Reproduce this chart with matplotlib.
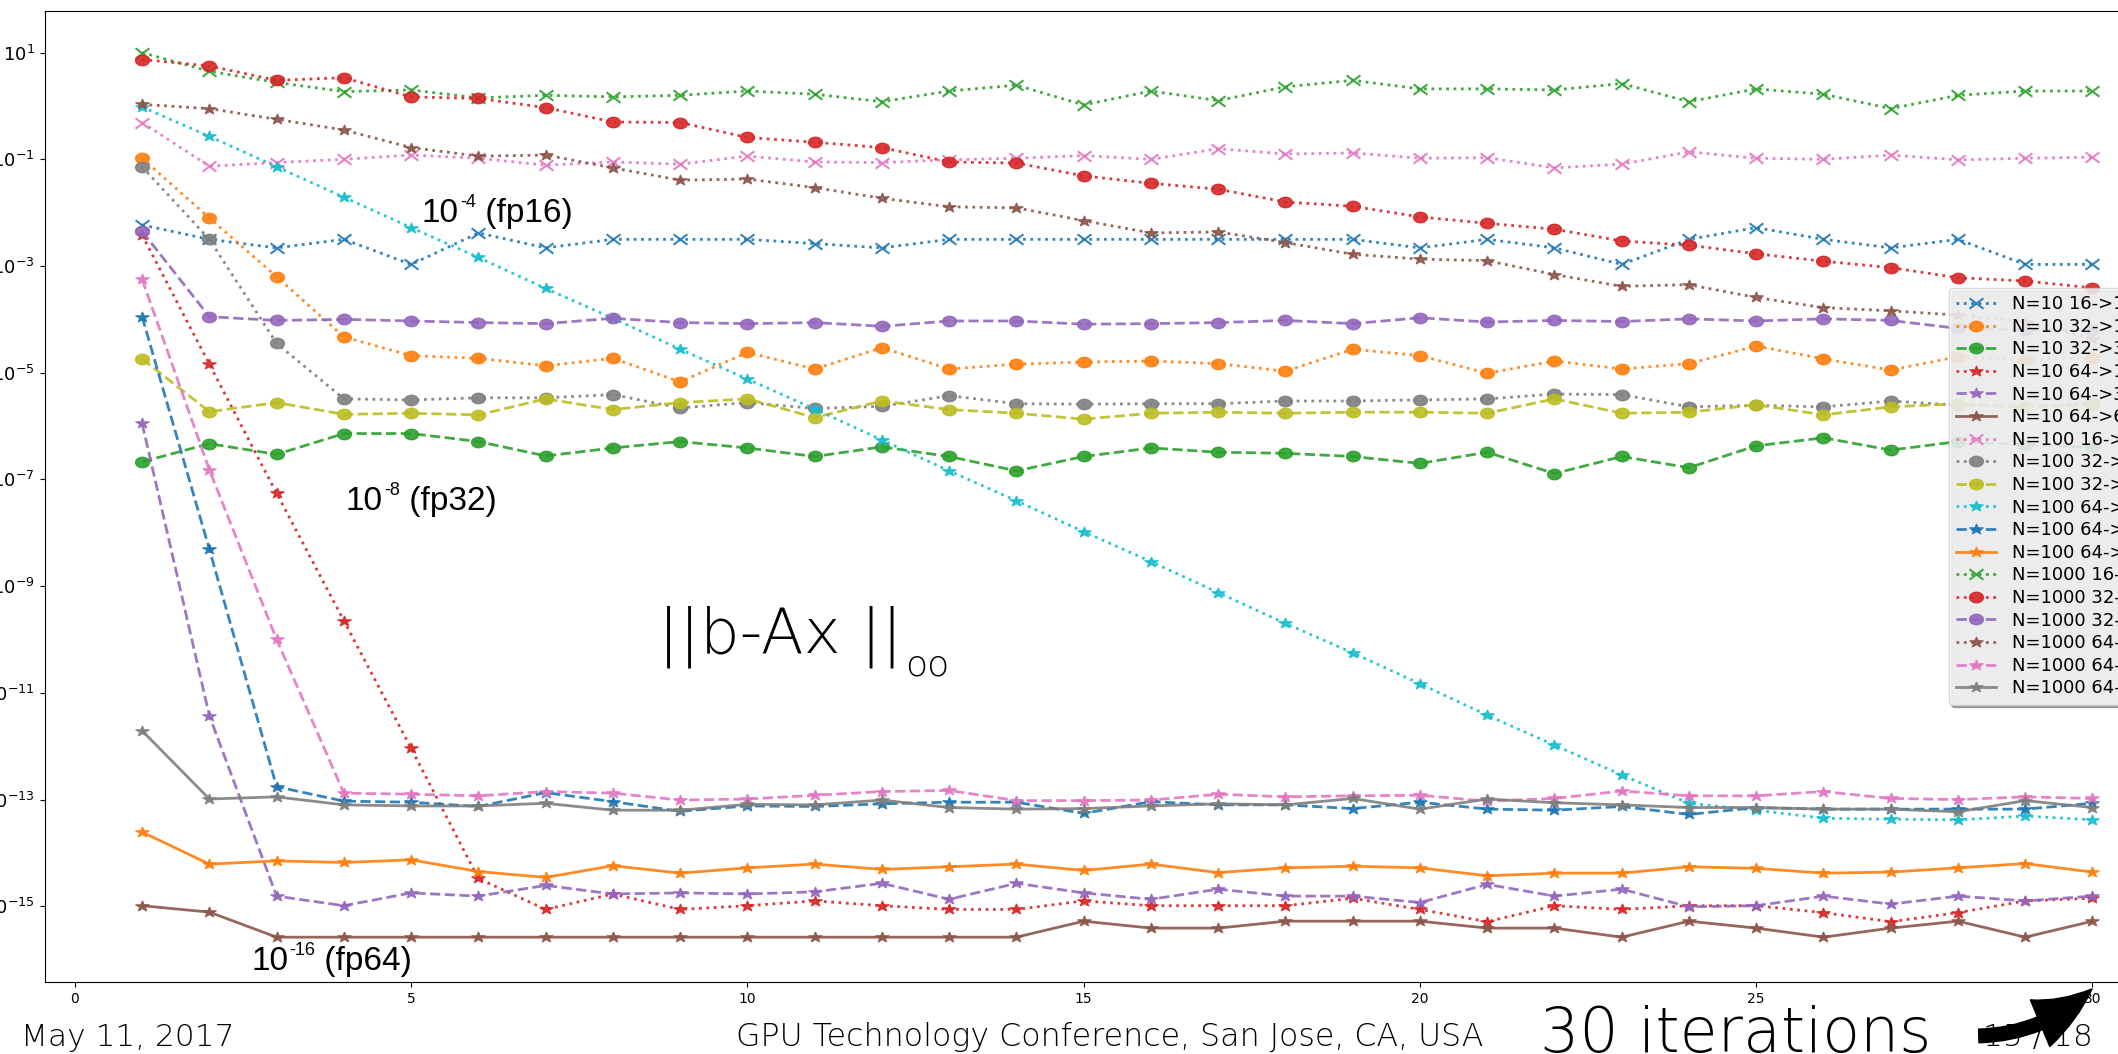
import numpy as np
import matplotlib
matplotlib.use("Agg")
import matplotlib.pyplot as plt
from matplotlib import font_manager as fm
from matplotlib.patches import FancyArrowPatch
from matplotlib.ticker import NullLocator
from matplotlib.markers import MarkerStyle
from matplotlib.transforms import Affine2D

# ---------------- data (log10 of ||b-Ax||_inf) -------------
iterations = list(range(1, 31))

labels = ["N=10 16->16", "N=10 32->16", "N=10 32->32", "N=10 64->16", "N=10 64->32", "N=10 64->64",
          "N=100 16->16", "N=100 32->16", "N=100 32->32", "N=100 64->16", "N=100 64->32", "N=100 64->64",
          "N=1000 16->16", "N=1000 32->16", "N=1000 32->32", "N=1000 64->16", "N=1000 64->32", "N=1000 64->64"]

n10_16 = [-2.23, -2.50, -2.66, -2.50, -2.97, -2.38, -2.66, -2.50, -2.50, -2.50, -2.58, -2.66, -2.50, -2.50, -2.50,
          -2.50, -2.50, -2.50, -2.50, -2.66, -2.50, -2.66, -2.97, -2.50, -2.28, -2.50, -2.66, -2.50, -2.97, -2.97]
n10_32a = [-0.98, -2.10, -3.20, -4.33, -4.68, -4.73, -4.87, -4.73, -5.17, -4.62, -4.93, -4.53, -4.93, -4.84, -4.80,
           -4.78, -4.83, -4.97, -4.56, -4.68, -5.01, -4.78, -4.93, -4.83, -4.50, -4.74, -4.95, -4.70, -4.76, -4.72]
n10_32b = [-6.67, -6.33, -6.53, -6.14, -6.14, -6.29, -6.56, -6.41, -6.29, -6.41, -6.57, -6.39, -6.57, -6.84, -6.57,
           -6.41, -6.49, -6.51, -6.57, -6.70, -6.49, -6.89, -6.57, -6.78, -6.37, -6.22, -6.45, -6.29, -6.35, -6.40]
n10_64a = [-2.42, -4.84, -7.26, -9.65, -12.04, -14.48, -15.06, -14.77, -15.06, -14.99, -14.90, -14.99, -15.06, -15.06, -14.90,
           -14.99, -14.99, -14.99, -14.85, -15.06, -15.29, -14.99, -15.06, -14.99, -14.99, -15.12, -15.29, -15.12, -14.90, -14.85]
n10_64b = [-5.95, -11.43, -14.81, -14.99, -14.75, -14.81, -14.61, -14.77, -14.75, -14.77, -14.73, -14.57, -14.87, -14.57, -14.75,
           -14.87, -14.68, -14.81, -14.81, -14.93, -14.59, -14.81, -14.68, -15.01, -14.99, -14.81, -14.96, -14.81, -14.90, -14.81]
n10_64c = [-14.99, -15.11, -15.58, -15.58, -15.58, -15.58, -15.58, -15.58, -15.58, -15.58, -15.58, -15.58, -15.58, -15.58, -15.28,
           -15.41, -15.41, -15.28, -15.28, -15.28, -15.41, -15.41, -15.58, -15.28, -15.41, -15.58, -15.41, -15.28, -15.58, -15.28]
n100_16 = [-0.31, -1.13, -1.06, -1.00, -0.92, -0.98, -1.11, -1.05, -1.09, -0.94, -1.05, -1.06, -1.01, -0.98, -0.93,
           -1.00, -0.80, -0.90, -0.88, -0.98, -0.97, -1.16, -1.09, -0.86, -0.98, -1.00, -0.92, -1.01, -0.98, -0.96]
n100_32a = [-1.14, -2.50, -4.45, -5.49, -5.51, -5.47, -5.47, -5.41, -5.66, -5.56, -5.67, -5.63, -5.43, -5.58, -5.59,
            -5.58, -5.58, -5.53, -5.53, -5.51, -5.49, -5.40, -5.41, -5.64, -5.61, -5.64, -5.53, -5.61, -5.64, -5.57]
n100_32b = [-4.74, -5.73, -5.56, -5.78, -5.76, -5.79, -5.49, -5.69, -5.56, -5.49, -5.84, -5.53, -5.69, -5.76, -5.87,
            -5.76, -5.74, -5.76, -5.74, -5.74, -5.76, -5.49, -5.76, -5.74, -5.60, -5.79, -5.64, -5.58, -5.64, -5.61]
n100_64a = [-0.02, -0.57, -1.14, -1.71, -2.28, -2.84, -3.42, -3.98, -4.56, -5.12, -5.68, -6.26, -6.84, -7.40, -7.98,
            -8.54, -9.12, -9.70, -10.25, -10.83, -11.42, -11.98, -12.54, -13.07, -13.20, -13.35, -13.37, -13.38, -13.31, -13.38]
n100_64b = [-3.95, -8.31, -12.76, -13.03, -13.05, -13.13, -12.87, -13.04, -13.22, -13.12, -13.13, -13.08, -13.05, -13.05, -13.26,
            -13.04, -13.10, -13.10, -13.17, -13.05, -13.18, -13.20, -13.13, -13.28, -13.15, -13.18, -13.18, -13.18, -13.18, -13.07]
n100_64c = [-13.61, -14.21, -14.15, -14.18, -14.13, -14.35, -14.46, -14.24, -14.38, -14.28, -14.21, -14.31, -14.26, -14.21, -14.33,
            -14.21, -14.37, -14.28, -14.25, -14.28, -14.43, -14.38, -14.38, -14.26, -14.29, -14.38, -14.36, -14.28, -14.20, -14.36]
n1000_16 = [1.00, 0.65, 0.44, 0.27, 0.30, 0.15, 0.20, 0.17, 0.20, 0.28, 0.22, 0.08, 0.28, 0.39, 0.02,
            0.28, 0.10, 0.36, 0.48, 0.32, 0.32, 0.30, 0.42, 0.08, 0.32, 0.22, -0.05, 0.20, 0.28, 0.28]
n1000_32a = [0.87, 0.75, 0.48, 0.53, 0.17, 0.14, -0.03, -0.30, -0.31, -0.59, -0.68, -0.78, -1.05, -1.07, -1.31,
             -1.45, -1.56, -1.80, -1.88, -2.08, -2.20, -2.31, -2.53, -2.61, -2.77, -2.91, -3.03, -3.22, -3.28, -3.41]
n1000_32b = [-2.35, -3.95, -4.02, -4.00, -4.03, -4.06, -4.08, -3.98, -4.06, -4.08, -4.06, -4.13, -4.03, -4.03, -4.09,
             -4.08, -4.06, -4.02, -4.08, -3.97, -4.05, -4.02, -4.04, -3.99, -4.03, -3.99, -4.02, -4.17, -4.20, -4.20]
n1000_64a = [0.03, -0.05, -0.25, -0.45, -0.78, -0.94, -0.92, -1.16, -1.39, -1.37, -1.53, -1.73, -1.89, -1.91, -2.15,
             -2.38, -2.36, -2.56, -2.78, -2.87, -2.90, -3.16, -3.38, -3.35, -3.59, -3.78, -3.84, -3.92, -4.04, -4.36]
n1000_64b = [-3.25, -6.82, -10.00, -12.88, -12.90, -12.93, -12.85, -12.88, -13.01, -12.99, -12.92, -12.85, -12.83, -13.02, -13.02,
             -13.01, -12.90, -12.95, -12.93, -12.92, -13.03, -12.98, -12.84, -12.93, -12.93, -12.85, -12.98, -13.00, -12.95, -12.98]
n1000_64c = [-11.71, -12.99, -12.95, -13.10, -13.12, -13.12, -13.07, -13.20, -13.20, -13.09, -13.10, -13.01, -13.15, -13.18, -13.17,
             -13.12, -13.08, -13.10, -12.98, -13.18, -12.99, -13.06, -13.10, -13.15, -13.15, -13.18, -13.18, -13.23, -13.02, -13.15]

series_log10 = [n10_16, n10_32a, n10_32b, n10_64a, n10_64b, n10_64c,
                n100_16, n100_32a, n100_32b, n100_64a, n100_64b, n100_64c,
                n1000_16, n1000_32a, n1000_32b, n1000_64a, n1000_64b, n1000_64c]

xticks = [0, 5, 10, 15, 20, 25, 30]
ytick_exponents = [1, -1, -3, -5, -7, -9, -11, -13, -15]

# ---------------- styling -----------------------------------------------------
linestyles = [":", ":", "--", ":", "--", "-"] * 3
markers = ["x", "o", "o", "*", "*", "*"] * 3
STRETCH = 1.33          # the slide shows the chart stretched horizontally
BASE_MS = 7.5

W, H = 2118, 1054
fig = plt.figure(figsize=(W / 100, H / 100), dpi=100)
fig.patch.set_facecolor("white")


def fx(px):
    return px / W


def fy(py):
    return 1 - py / H


def weight_num(w):
    if isinstance(w, (int, float)):
        return w
    return fm.weight_dict.get(str(w).lower(), 400)


def light_face(families, max_w=300):
    for fam in families:
        best = None
        for f in fm.fontManager.ttflist:
            if f.name != fam or f.style != "normal" or f.stretch not in ("normal", 500, "medium"):
                continue
            w = weight_num(f.weight)
            if w <= max_w and (best is None or w < weight_num(best.weight)):
                best = f
        if best is not None:
            return best.fname
    return None


def props(fname, size, fallback="DejaVu Sans"):
    if fname:
        return fm.FontProperties(fname=fname, size=size)
    return fm.FontProperties(family=fallback, size=size)


def stretched_marker(mk):
    m = MarkerStyle(mk)
    p = m.get_path().transformed(m.get_transform())
    sp = p.transformed(Affine2D().scale(STRETCH, 1.0))
    scale = np.max(np.abs(sp.vertices)) / 0.5
    return sp, scale


ax_left, ax_top, ax_bottom, ax_right = 44.6, 11, 982, 2190
ax = fig.add_axes([fx(ax_left), fy(ax_bottom), (ax_right - ax_left) / W, (ax_bottom - ax_top) / H])

for vals, lab, ls, mk in zip(series_log10, labels, linestyles, markers):
    path, sc = stretched_marker(mk)
    ax.plot(iterations, 10.0 ** np.asarray(vals), linestyle=ls, marker=path, label=lab,
            lw=2, ms=BASE_MS * sc, mew=1.5 if mk == "x" else 1.0, alpha=0.9)

ax.set_yscale("log")
ax.set_xlim(-0.45, 31.45)
ax.set_ylim(10 ** -16.42, 10 ** 1.78)
ax.set_xticks(xticks)
ax.set_yticks([10.0 ** e for e in ytick_exponents])
ax.yaxis.set_minor_locator(NullLocator())
ax.tick_params(axis="x", labelsize=10)
ax.tick_params(axis="y", labelsize=13)

leg = ax.legend(loc="upper left", bbox_to_anchor=(fx(1949), fy(288)), bbox_transform=fig.transFigure,
                fontsize=13, shadow=True, framealpha=0.8, borderaxespad=0, labelspacing=0.255,
                handlelength=2.2, handletextpad=0.9, borderpad=0.4)

# ---------------- slide annotations --------------------------------------------
renderer = fig.canvas.get_renderer()
ann_name = light_face(["Liberation Sans"], max_w=400)


def sup_label(x_px, base_px, base, sup, rest, size, sup_size):
    t1 = fig.text(fx(x_px), fy(base_px), base, fontproperties=props(ann_name, size), va="baseline")
    bb = t1.get_window_extent(renderer)
    x2 = bb.x1 + 1
    t2 = fig.text(x2 / W, fy(base_px - 0.46 * size * 100 / 72), sup,
                  fontproperties=props(ann_name, sup_size), va="baseline")
    bb2 = t2.get_window_extent(renderer)
    fig.text(bb2.x1 / W, fy(base_px), rest, fontproperties=props(ann_name, size), va="baseline")


sup_label(422, 222, "10", "-4", " (fp16)", 24, 13)
sup_label(346, 510, "10", "-8", " (fp32)", 24, 13)
sup_label(251, 970, "10", "-16", " (fp64)", 24, 13)

thin = light_face(["DejaVu Sans", "Lato", "Open Sans", "Roboto", "Noto Sans"], max_w=300)

fig.text(fx(658), fy(653), "||b-Ax ||", fontproperties=props(thin, 45), va="baseline")
fig.text(fx(905), fy(675), "oo", fontproperties=props(thin, 26), va="baseline")

fig.text(fx(21), fy(1046), "May 11, 2017", fontproperties=props(thin, 22.5), va="baseline")
fig.text(fx(736), fy(1046), "GPU Technology Conference, San Jose, CA, USA", fontproperties=props(thin, 22.8),
         va="baseline")
fig.text(fx(1983), fy(1046), "15 / 18", fontproperties=props(thin, 22.5), va="baseline")
fig.text(fx(1540), fy(1052), "30 iterations", fontproperties=props(thin, 44.5), va="baseline")

arrow = FancyArrowPatch((fx(1976), fy(1036)), (fx(2094), fy(987)), transform=fig.transFigure,
                        arrowstyle="simple,head_width=2.6,head_length=3.2,tail_width=0.7",
                        mutation_scale=14, connectionstyle="arc3,rad=0.2", color="black")
fig.patches.append(arrow)

fig.savefig("out.png", dpi=100)
